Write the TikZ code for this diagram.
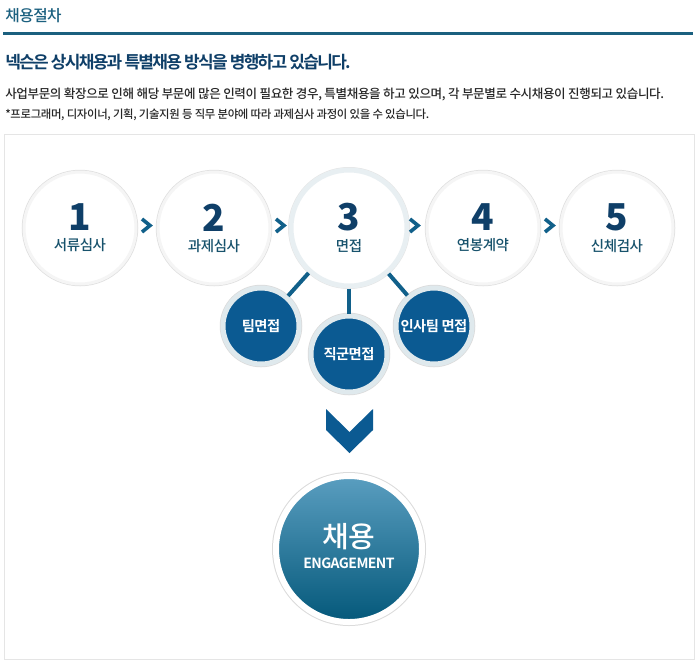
\documentclass[tikz,border=0pt]{standalone}
\usepackage{fontspec}
\usepackage{xcolor}
\usepackage{tikz}
\usetikzlibrary{calc}
\usetikzlibrary{positioning}
\setmainfont{Noto Sans CJK KR}
\newfontfamily\krhead[LetterSpace=-10]{Noto Sans CJK KR Bold}
\newfontfamily\krbold[LetterSpace=-4]{Noto Sans CJK KR Bold}
\newfontfamily\krblack{Noto Sans CJK KR Black}
\newfontfamily\krtext[LetterSpace=-3]{Noto Sans CJK KR Medium}
\definecolor{barblue}{HTML}{1B607F}
\definecolor{navy}{HTML}{0F3F68}
\definecolor{subblue}{HTML}{0B5A92}
\definecolor{chevblue}{HTML}{11608A}
\definecolor{gradtop}{HTML}{5A9EC0}
\definecolor{gradbot}{HTML}{04587A}
\begin{document}
\begin{tikzpicture}[x=1pt,y=-1pt,-,auto,node distance=134pt,semithick]
	\tikzstyle{stepc}=[draw=black!4, circle, line width=3pt, fill=white, minimum size=112pt, inner sep=0pt, align=center, text=navy,
		preaction={draw=black!12, line width=4.5pt}]
	\tikzstyle{stepm}=[stepc, draw=barblue!10, minimum size=116pt, line width=5pt, preaction={draw=black!10, line width=6pt}]
	\tikzstyle{subc}=[draw=barblue!14, circle, line width=5pt, fill=subblue, minimum size=76pt, inner sep=0pt, align=center, text=white,
		preaction={draw=black!14, line width=6.5pt}]
	\tikzstyle{lab}=[anchor=west, inner sep=0pt, text=black!85]
	\tikzstyle{link}=[line width=4pt, draw=chevblue]
	\tikzstyle{chev}=[line width=3.6pt, draw=chevblue, miter limit=10]
	\newcommand{\stepnum}[2]{{\krblack\fontsize{37}{37}\selectfont #1}\\[7pt]{\krtext\fontsize{14.5}{14.5}\selectfont\color{barblue!85!black} #2}}
	\useasboundingbox (0,0) rectangle (700,665);
	\fill[white] (0,0) rectangle (700,665);

	% header
	\node[lab, text=barblue] (title) at (5,16) {\krtext\fontsize{15.7}{15.7}\selectfont 채용절차};
	\draw[line width=3pt, draw=barblue] (3,33) -- (693,33);
	\node[lab, text=navy] (head) at (5,62) {\krhead\fontsize{17}{17}\selectfont 넥슨은 상시채용과 특별채용 방식을 병행하고 있습니다.};
	\node[lab] (intro) at (5,94) {\krtext\fontsize{12.55}{12.55}\selectfont 사업부문의 확장으로 인해 해당 부문에 많은 인력이 필요한 경우, 특별채용을 하고 있으며, 각 부문별로 수시채용이 진행되고 있습니다.};
	\node[lab] (note) at (5,115) {\krtext\fontsize{11.4}{11.4}\selectfont *프로그래머, 디자이너, 기획, 기술지원 등 직무 분야에 따라 과제심사 과정이 있을 수 있습니다.};
	\draw[draw=black!10] (4,134) rectangle (694,659);

	% steps
	\node[stepc] (A) at (80,228) {\stepnum{1}{서류심사}};
	\node[stepc] (B) [right of=A] {\stepnum{2}{과제심사}};
	\node[stepm] (C) [right of=B, xshift=1pt] {\stepnum{3}{면접}};
	\node[stepc] (D) [right of=C] {\stepnum{4}{연봉계약}};
	\node[stepc] (E) [right of=D] {\stepnum{5}{신체검사}};

	\foreach \x in {142,276,410,545}
		\draw[chev] (\x,219) -- (\x+8,225.5) -- (\x,232);

	% interview kinds
	\node[subc] (F) at (261,326) {\krbold\fontsize{14.3}{14.3}\selectfont 팀면접};
	\node[subc] (G) at (349,354) {\krbold\fontsize{14.3}{14.3}\selectfont 직군면접};
	\node[subc] (H) at (434,326) {\krbold\fontsize{14.3}{14.3}\selectfont 인사팀 면접};
	\path[link]
		(C) edge (F)
		(C) edge (G)
		(C) edge (H);

	% result
	\fill[subblue] (326,409) -- (349.5,432) -- (373,409) -- (373,430) -- (349.5,453) -- (326,430) -- cycle;
	\node[circle, draw=white, line width=6pt, top color=gradtop, bottom color=gradbot, minimum size=146pt, inner sep=0pt, align=center, text=white,
		preaction={draw=black!14, line width=8pt}] (J) at (349,549) {};
	\node[text=white, align=center] (Jtext) at (349,546)
		{{\krtext\fontsize{29}{29}\selectfont 채용}\\[8pt]{\krbold\fontsize{14}{14}\selectfont ENGAGEMENT}};
\end{tikzpicture}
\end{document}
